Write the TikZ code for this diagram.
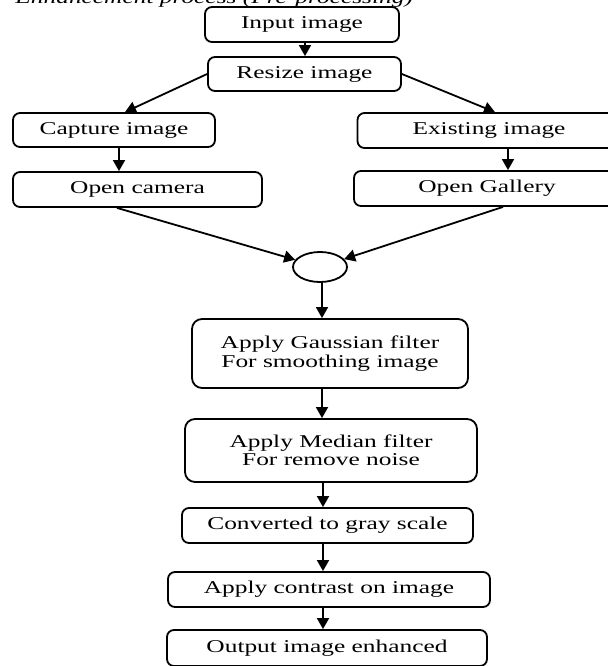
\documentclass[tikz,border=0pt]{standalone}
\usepackage{fontspec}
\setmainfont{Liberation Serif}[FakeStretch=1.41]
\usetikzlibrary{arrows.meta,shapes.geometric}

\begin{document}
\begin{tikzpicture}[x=0.5pt,y=-0.5pt,
		stage/.style={draw,line width=0.9pt,rounded corners=3.5pt,inner sep=0pt,align=center,
			font=\fontsize{9}{9.2}\selectfont,minimum height=17.5pt},
		bigstage/.style={stage,rounded corners=5pt},
		flow/.style={line width=0.9pt,-{Triangle[width=6pt,length=5.5pt]}}]
			\useasboundingbox (0,0) rectangle (608,666);
			\clip (0,0) rectangle (608,666);
			\node[anchor=base east,font=\fontsize{9}{9.2}\selectfont\itshape] (title) at (420,3.5) {Enhancement process (Pre-processing)};
			\node[stage,minimum width=97pt] (input) at (302,24.5) {Input image};
			\node[stage,minimum width=96.5pt,minimum height=17pt] (resize) at (304.5,74) {Resize image};
			\node[stage,minimum width=101pt,minimum height=17pt] (capture) at (114,130) {Capture image};
			\node[stage,minimum width=131.5pt] (existing) at (489,130.5) {Existing image};
			\node[stage,minimum width=124.5pt] (camera) at (137.5,189.5) {Open camera};
			\node[stage,minimum width=133pt] (gallery) at (487,188.5) {Open Gallery};
			\node[draw,line width=0.9pt,ellipse,inner sep=0pt,minimum width=27pt,minimum height=15pt] (join) at (320,267) {};
			\node[bigstage,minimum width=138pt,minimum height=34.5pt] (gauss) at (330,353.5) {Apply Gaussian filter\\For smoothing image};
			\node[bigstage,minimum width=146pt,minimum height=31.5pt] (median) at (331,450.5) {Apply Median filter\\For remove noise};
			\node[stage,minimum width=145.5pt] (gray) at (327.5,525.5) {Converted to gray scale};
			\node[stage,minimum width=161pt] (contrast) at (329,589.5) {Apply contrast on image};
			\node[stage,minimum width=160pt,minimum height=18pt] (output) at (327,648) {Output image enhanced};
			\draw[flow] ([xshift=1.5pt]input.south) -- ([xshift=0.25pt]resize.north);
			\draw[flow] (resize.west) -- ([xshift=5.5pt]capture.north);
			\draw[flow] (resize.east) -- ([xshift=3pt]existing.north);
			\draw[flow] ([xshift=2.5pt]capture.south) -- ([xshift=-9.25pt]camera.north);
			\draw[flow] ([xshift=9.5pt]existing.south) -- ([xshift=10.5pt]gallery.north);
			\draw[flow] ([xshift=-10.25pt]camera.south) -- (join);
			\draw[flow] ([xshift=8pt]gallery.south) -- (join);
			\draw[flow] ([xshift=1pt]join.south) -- ([xshift=-4pt]gauss.north);
			\draw[flow] ([xshift=-4pt]gauss.south) -- ([xshift=-4.5pt]median.north);
			\draw[flow] ([xshift=-4pt]median.south) -- ([xshift=-2.25pt]gray.north);
			\draw[flow] ([xshift=-2.25pt]gray.south) -- ([xshift=-3pt]contrast.north);
			\draw[flow] ([xshift=-3pt]contrast.south) -- ([xshift=-2pt]output.north);
		\end{tikzpicture}
\end{document}
